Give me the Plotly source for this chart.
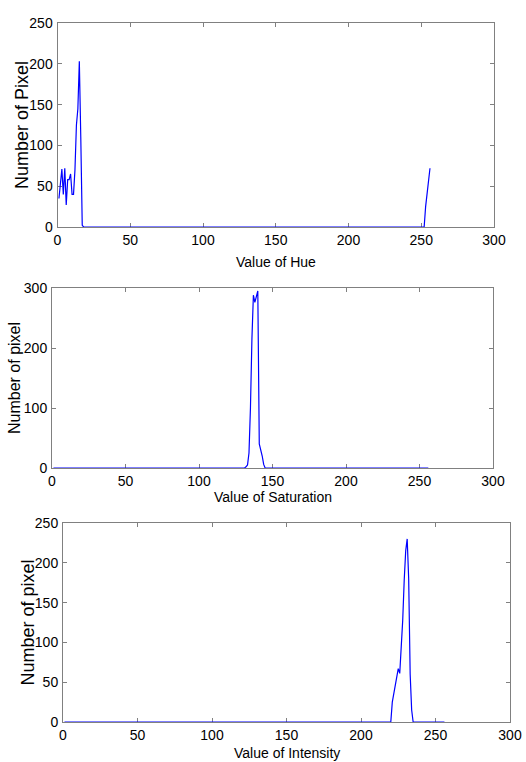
import plotly.graph_objects as go

# histogram bins are 1..256 (MATLAB-style index); bins not listed are empty
bins = list(range(1, 257))

hue_counts = {
    1: 35, 2: 53, 3: 71, 4: 40, 5: 72, 6: 27, 7: 58, 8: 58, 9: 65, 10: 40,
    11: 40, 12: 70, 13: 125, 14: 145, 15: 203, 16: 110, 17: 2,
    253: 25, 254: 42, 255: 57, 256: 72,
}
sat_counts = {
    132: 2, 133: 5, 134: 25, 135: 100, 136: 215, 137: 288, 138: 276,
    139: 285, 140: 295, 141: 40, 142: 32, 143: 20, 144: 6,
}
int_counts = {
    221: 25, 222: 37, 223: 45, 224: 60, 225: 67, 226: 61, 227: 88, 228: 128,
    229: 178, 230: 215, 231: 230, 232: 180, 233: 60, 234: 15,
}

x_ticks = [0, 50, 100, 150, 200, 250, 300]
hue_yticks = [0, 50, 100, 150, 200, 250]
sat_yticks = [0, 100, 200, 300]
int_yticks = [0, 50, 100, 150, 200, 250]

W, H = 526, 762
FONT = "Liberation Sans, Arial"


def full_hist(counts):
    return [counts.get(b, 0) for b in bins]


# pixel -> paper fraction
def px(x):
    return x / W


def py(y):
    return 1 - y / H


# panel boxes in pixels: left, right, top, bottom
panels = [
    dict(name="Hue", counts=hue_counts, yticks=hue_yticks, box=(57.5, 494, 23, 227),
         xlabel="Value of Hue", ylabel="Number of Pixel", xlab_y=262, ylab_x=22, ysize=18),
    dict(name="Saturation", counts=sat_counts, yticks=sat_yticks, box=(52, 493, 288, 468),
         xlabel="Value of Saturation", ylabel="Number of pixel", xlab_y=497, ylab_x=14, ysize=16),
    dict(name="Intensity", counts=int_counts, yticks=int_yticks, box=(63, 510, 523, 722),
         xlabel="Value of Intensity", ylabel="Number of pixel", xlab_y=753, ylab_x=27, ysize=18),
]

fig = go.Figure()
annotations = []

for i, p in enumerate(panels, start=1):
    sfx = "" if i == 1 else str(i)
    l, r, t, b = p["box"]
    fig.add_trace(
        go.Scatter(
            x=bins, y=full_hist(p["counts"]), mode="lines",
            line=dict(color="#0000ff", width=1.2),
            xaxis="x" + sfx, yaxis="y" + sfx, name=p["name"], showlegend=False,
        )
    )
    common = dict(
        showline=True, linecolor="#808080", linewidth=1, mirror="ticks",
        ticks="inside", ticklen=4, tickcolor="#808080", showgrid=False,
        zeroline=False, layer="below traces", automargin=False,
        tickfont=dict(family=FONT, size=14, color="black"),
    )
    fig.update_layout(**{
        "xaxis" + sfx: dict(common, domain=[px(l), px(r)], range=[0, 300],
                            tickvals=x_ticks, anchor="y" + sfx),
        "yaxis" + sfx: dict(common, domain=[py(b), py(t)],
                            range=[0, p["yticks"][-1]], tickvals=p["yticks"],
                            anchor="x" + sfx, ticklabelstandoff=1),
    })
    annotations.append(dict(
        text=p["xlabel"], xref="paper", yref="paper", x=px((l + r) / 2), y=py(p["xlab_y"]),
        showarrow=False, xanchor="center", yanchor="middle",
        font=dict(family=FONT, size=14, color="black"),
    ))
    annotations.append(dict(
        text=p["ylabel"], xref="paper", yref="paper", x=px(p["ylab_x"]), y=py((t + b) / 2),
        showarrow=False, xanchor="center", yanchor="middle", textangle=-90,
        font=dict(family=FONT, size=p["ysize"], color="black"),
    ))

fig.update_layout(
    width=W, height=H,
    margin=dict(l=0, r=0, t=0, b=0, autoexpand=False),
    plot_bgcolor="white", paper_bgcolor="white",
    annotations=annotations,
)

# drop the default 8px body margin so the figure fills the window
fig.write_html(
    "out.html",
    config={"displayModeBar": False},
    post_script="document.body.style.margin = '0';",
)
